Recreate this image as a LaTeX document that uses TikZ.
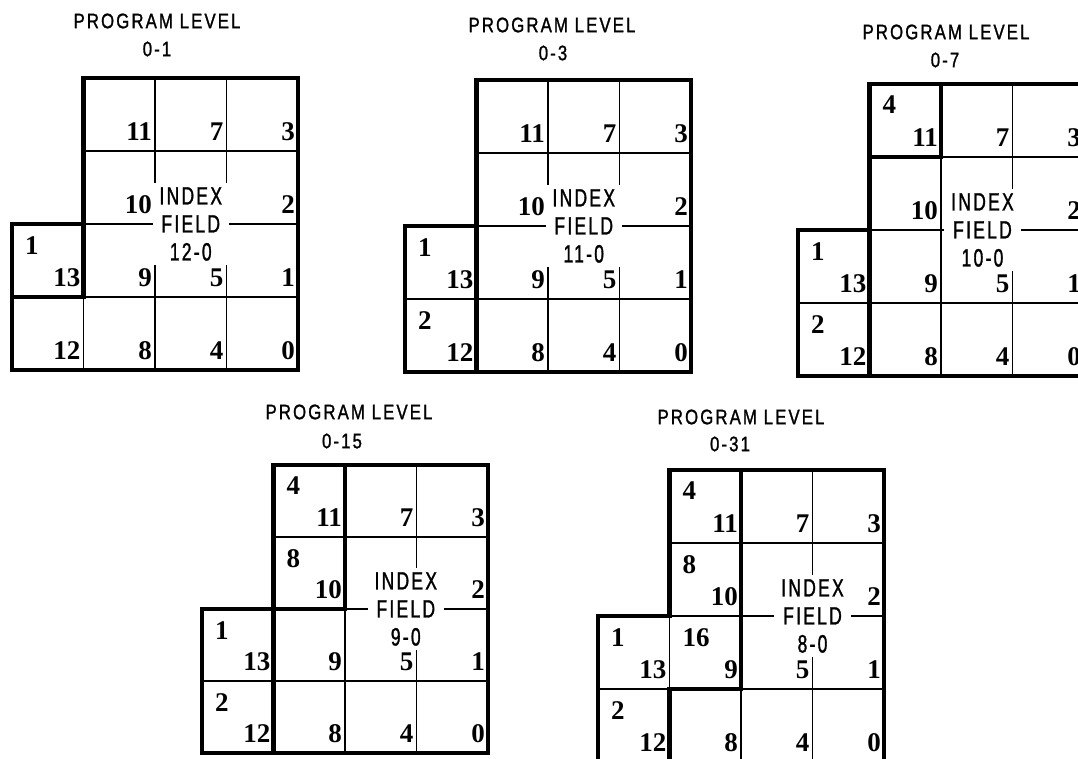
\documentclass[tikz,border=0pt]{standalone}
\usepackage{fontspec}
\newfontfamily\titlefont[FakeStretch=0.8,LetterSpace=10,FakeBold=1.2]{Liberation Sans}
\newfontfamily\idxfont[FakeStretch=0.7,LetterSpace=9,FakeBold=1.2]{Liberation Sans}
\newfontfamily\numfam{Liberation Serif}
\newcommand\numfont{\numfam\bfseries\fontsize{27}{27}\selectfont}
\tikzset{
  thinline/.style={line width=1.6pt},
  thickline/.style={line width=4.8pt,line cap=rect,line join=miter},
  num/.style={font=\numfont,inner sep=0pt,anchor=south east,xshift=-3pt,yshift=10pt},
  tlnum/.style={font=\numfont,inner sep=0pt,anchor=north west,xshift=13pt,yshift=-12pt},
  idx/.style={font=\idxfont\fontsize{25}{28}\selectfont,fill=white,align=center,inner xsep=7pt,inner ysep=4pt},
  ttl/.style={font=\titlefont\fontsize{21}{24}\selectfont,inner sep=0pt}
}
% #1 left x, #2 top y, #3 row height, #4 index-label x, #5 range, #6 name prefix
\newcommand\pgrid[6]{%
\begin{scope}[shift={(#1pt,-#2pt)},x=71.5pt,y=-#3pt]
  \draw[thinline] (1,1) -- (4,1);
  \draw[thinline] (1,2) -- (4,2);
  \draw[thinline] (0,3) -- (4,3);
  \draw[thinline] (2,0) -- (2,4);
  \draw[thinline] (3,0) -- (3,4);
  \draw[thinline] (1,2) -- (1,4);
  \node[num] (#6-c11) at (2,1) {11};
  \node[num] (#6-c7) at (3,1) {7};
  \node[num] (#6-c3) at (4,1) {3};
  \node[num] (#6-c10) at (2,2) {10};
  \node[num] (#6-c2) at (4,2) {2};
  \node[num] (#6-c13) at (1,3) {13};
  \node[num] (#6-c9) at (2,3) {9};
  \node[num] (#6-c5) at (3,3) {5};
  \node[num] (#6-c1) at (4,3) {1};
  \node[num] (#6-c12) at (1,4) {12};
  \node[num] (#6-c8) at (2,4) {8};
  \node[num] (#6-c4) at (3,4) {4};
  \node[num] (#6-c0) at (4,4) {0};
  \node[tlnum] (#6-t1) at (0,2) {1};
  \node[idx] (#6-idx) at (#4,2) {INDEX\\FIELD\\#5};
  \draw[thickline] (1,0) -- (4,0) -- (4,4) -- (0,4) -- (0,2) -- (1,2) -- cycle;
\end{scope}}
\begin{document}
\begin{tikzpicture}[x=1pt,y=-1pt]
\useasboundingbox (0,0) rectangle (1078,759);
\clip (0,0) rectangle (1078,759);
\fill[white] (0,0) rectangle (1078,759);

% ---- 0-1
\node[ttl] (t1a) at (157,21) {PROGRAM LEVEL};
\node[ttl] (t1b) at (157,49) {0-1};
\pgrid{12}{78}{73}{2.5}{12-0}{d1}
\begin{scope}[shift={(12pt,-78pt)},x=71.5pt,y=-73pt]
  \draw[thickline] (1,2) -- (1,3) -- (0,3);
\end{scope}

% ---- 0-3
\node[ttl] (t2a) at (552,25) {PROGRAM LEVEL};
\node[ttl] (t2b) at (553,53) {0-3};
\pgrid{405}{80}{73}{2.5}{11-0}{d2}
\begin{scope}[shift={(405pt,-80pt)},x=71.5pt,y=-73pt]
  \node[tlnum] (d2-t2) at (0,3) {2};
  \draw[thickline] (1,2) -- (1,4);
\end{scope}

% ---- 0-7
\node[ttl] (t3a) at (946,32) {PROGRAM LEVEL};
\node[ttl] (t3b) at (945,60) {0-7};
\pgrid{798}{84}{73}{2.58}{10-0}{d3}
\begin{scope}[shift={(798pt,-84pt)},x=71.5pt,y=-73pt]
  \node[tlnum] (d3-t2) at (0,3) {2};
  \node[tlnum] (d3-t4) at (1,0) {4};
  \draw[thickline] (1,2) -- (1,4);
  \draw[thickline] (1,1) -- (2,1) -- (2,0);
\end{scope}

% ---- 0-15
\node[ttl] (t4a) at (349,412) {PROGRAM LEVEL};
\node[ttl] (t4b) at (342,441) {0-15};
\pgrid{202}{465}{72}{2.85}{9-0}{d4}
\begin{scope}[shift={(202pt,-465pt)},x=71.5pt,y=-72pt]
  \node[tlnum] (d4-t2) at (0,3) {2};
  \node[tlnum] (d4-t4) at (1,0) {4};
  \node[tlnum] (d4-t8) at (1,1) {8};
  \draw[thickline] (1,2) -- (1,4);
  \draw[thickline] (1,2) -- (2,2) -- (2,0);
\end{scope}

% ---- 0-31
\node[ttl] (t5a) at (741,417) {PROGRAM LEVEL};
\node[ttl] (t5b) at (730,444) {0-31};
\pgrid{598}{470}{73}{3.0}{8-0}{d5}
\begin{scope}[shift={(598pt,-470pt)},x=71.5pt,y=-73pt]
  \node[tlnum] (d5-t2) at (0,3) {2};
  \node[tlnum] (d5-t4) at (1,0) {4};
  \node[tlnum] (d5-t8) at (1,1) {8};
  \node[tlnum] (d5-t16) at (1,2) {16};
  \draw[thickline] (1,3) -- (1,4);
  \draw[thickline] (1,3) -- (2,3) -- (2,0);
\end{scope}
\end{tikzpicture}
\end{document}
